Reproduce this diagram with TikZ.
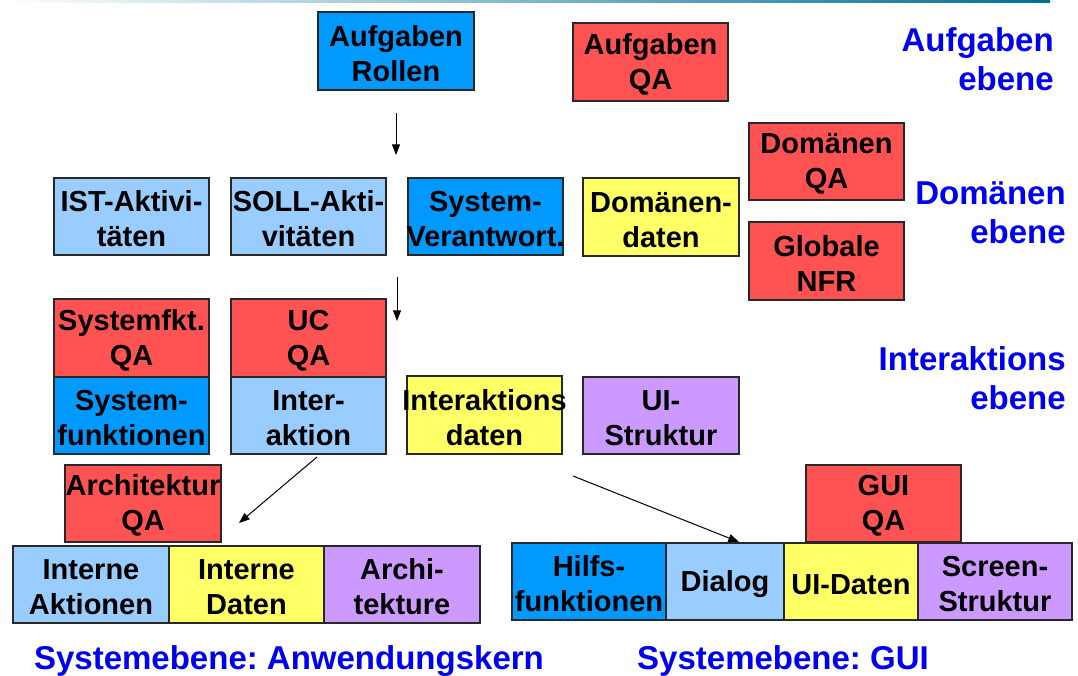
\documentclass[tikz,border=0pt]{standalone}
\usepackage{fontspec}
\setmainfont{Liberation Sans}
\usetikzlibrary{arrows.meta}
\frenchspacing
\definecolor{cblue}{RGB}{0,153,255}
\definecolor{clight}{RGB}{153,204,255}
\definecolor{cred}{RGB}{255,82,82}
\definecolor{cyel}{RGB}{255,255,102}
\definecolor{cpur}{RGB}{204,153,255}
\definecolor{clab}{RGB}{0,0,240}
\definecolor{cline}{RGB}{0,112,145}
\definecolor{cedge}{RGB}{40,40,40}
\newcommand\zl[1]{\makebox[0pt]{\rule{0pt}{19pt}#1}}
\newcommand\mybox[7]{\node[box,fill=#2,minimum width={(#5-#3)*0.75pt},minimum height={(#6-#4)*0.75pt}] (#1) at ({(#3+#5)/2},{(#4+#6)/2}) {#7};}
\begin{document}
\begin{tikzpicture}[x=0.75pt,y=-0.75pt,
 box/.style={draw=cedge,line width=0.9pt,inner sep=0pt,align=center,font=\fontsize{21.75pt}{26.25pt}\selectfont\bfseries},
 lab/.style={text=clab,inner sep=0pt,align=right,anchor=east,font=\fontsize{24.75pt}{29.25pt}\selectfont\bfseries},
 bot/.style={text=clab,inner sep=0pt,anchor=base,font=\fontsize{24.75pt}{29pt}\selectfont\bfseries},
 arr/.style={line width=0.75pt,-{Triangle[length=8pt,width=6pt]}}]
\useasboundingbox (0,0) rectangle (1078,675);
\shade[left color=white,right color=cline] (0,0) rectangle (1050,2.5);
% Aufgabenebene
\mybox{ar}{cblue}{318}{12}{474}{90}{\zl{Aufgaben}\\\zl{Rollen}}
\mybox{aqa}{cred}{573}{23}{728}{101}{\zl{Aufgaben}\\\zl{QA}}
% Domaenenebene
\mybox{dqa}{cred}{749}{123}{904}{200}{\zl{Domänen}\\\zl{QA}}
\mybox{nfr}{cred}{749}{222}{904}{300}{\zl{Globale}\\\zl{NFR}}
\mybox{ist}{clight}{54}{178}{209}{255}{\zl{IST-Aktivi-}\\\zl{täten}}
\mybox{soll}{clight}{231}{178}{386}{255}{\zl{SOLL-Akti-}\\\zl{vitäten}}
\mybox{sv}{cblue}{408}{178}{563}{255}{\zl{System-}\\\zl{Verantwort.}}
\mybox{dd}{cyel}{583}{178}{739}{256}{\zl{Domänen-}\\\zl{daten}}
% Interaktionsebene
\mybox{sfqa}{cred}{54}{299}{209}{377}{\zl{Systemfkt.}\\\zl{QA}}
\mybox{sf}{cblue}{54}{377}{209}{454}{\zl{System-}\\\zl{funktionen}}
\mybox{ucqa}{cred}{231}{299}{386}{377}{\zl{UC}\\\zl{QA}}
\mybox{ia}{clight}{231}{377}{386}{454}{\zl{Inter-}\\\zl{aktion}}
\mybox{id}{cyel}{407}{376}{562}{454}{\zl{Interaktions}\\\zl{daten}}
\mybox{uis}{cpur}{583}{377}{739}{454}{\zl{UI-}\\\zl{Struktur}}
% Systemebene Anwendungskern
\mybox{arqa}{cred}{65}{465}{221}{542}{\zl{Architektur}\\\zl{QA}}
\mybox{ina}{clight}{13}{546}{169}{623}{\zl{Interne}\\\zl{Aktionen}}
\mybox{ind}{cyel}{169}{546}{324}{623}{\zl{Interne}\\\zl{Daten}}
\mybox{arc}{cpur}{324}{546}{480}{623}{\zl{Archi-}\\\zl{tekture}}
% Systemebene GUI
\mybox{guiqa}{cred}{806}{465}{961}{542}{\zl{GUI}\\\zl{QA}}
\mybox{hf}{cblue}{512}{543}{666}{620}{\zl{Hilfs-}\\\zl{funktionen}}
\mybox{dlg}{clight}{666}{543}{784}{620}{\zl{Dialog}}
\mybox{uid}{cyel}{784}{543}{918}{620}{\zl{UI-Daten}}
\mybox{scr}{cpur}{918}{543}{1072}{620}{\zl{Screen-}\\\zl{Struktur}}
% labels
\node[lab] (lauf) at (1054,59) {Aufgaben\\ebene};
\node[lab] (ldom) at (1066,213) {Domänen\\ebene};
\node[lab] (lint) at (1066,378.5) {Interaktions\\ebene};
\node[bot] (lsys1) at (289,669) {Systemebene: Anwendungskern};
\node[bot] (lsys2) at (783,669) {Systemebene: GUI};
% arrows
\coordinate (a1e) at (396,155);
\draw[arr,shorten <=16.5pt] (ar.south) -- (a1e);
\coordinate (a2s) at (397,277);
\coordinate (a2e) at (397,321);
\draw[arr] (a2s) -- (a2e);
\coordinate (a3s) at (317,457);
\coordinate (a3e) at (239,523);
\draw[arr] (a3s) -- (a3e);
\coordinate (a4s) at (573,476);
\coordinate (a4e) at (739,542);
\draw[arr] (a4s) -- (a4e);
\end{tikzpicture}
\end{document}
